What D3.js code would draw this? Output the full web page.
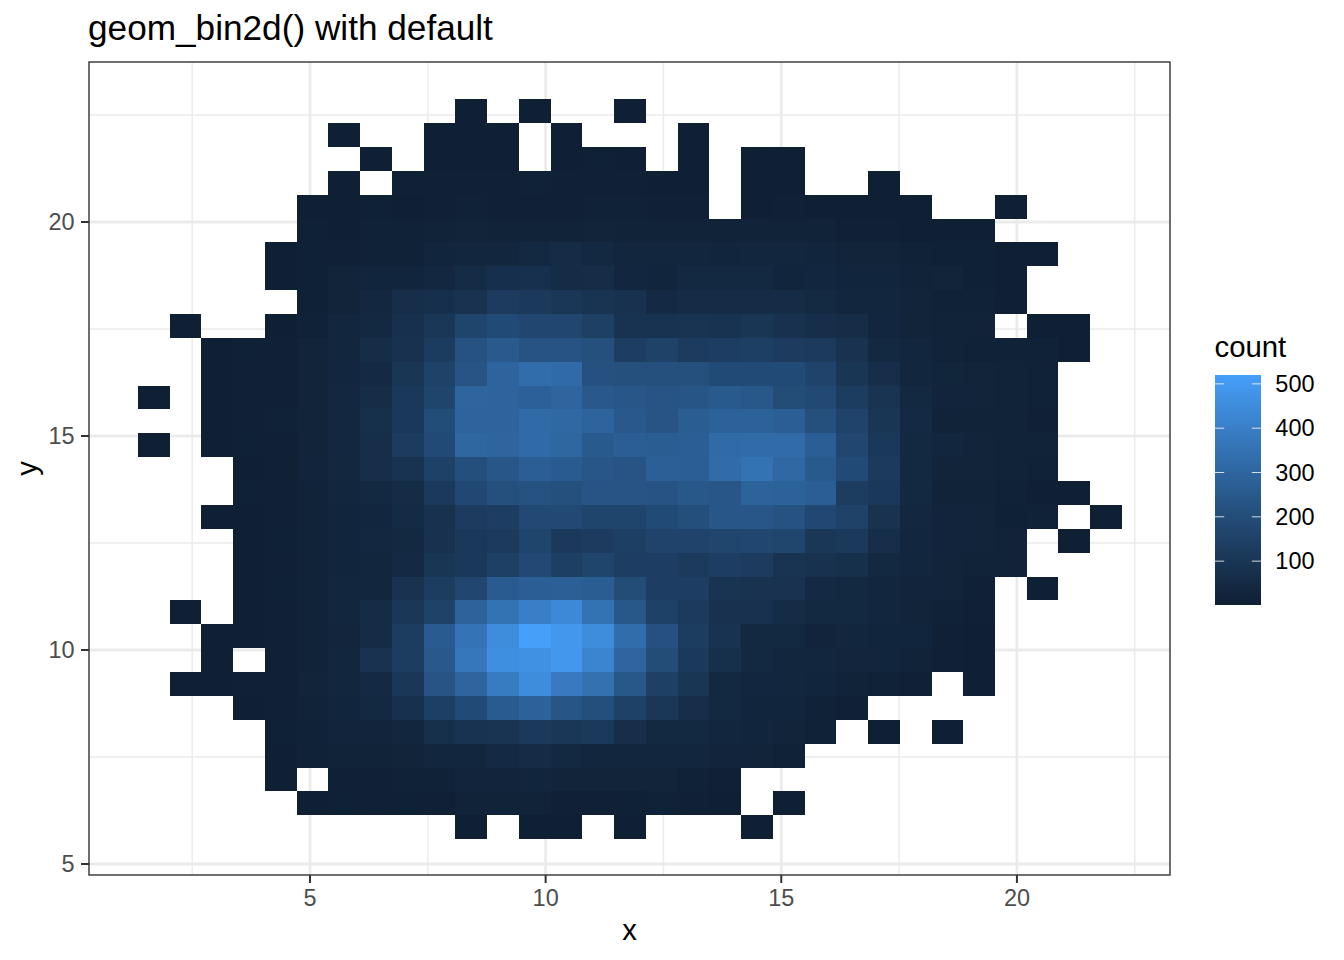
<!DOCTYPE html>
<html>
<head>
<meta charset="utf-8">
<script src="https://cdn.jsdelivr.net/npm/d3@7"></script>
<style>
html,body{margin:0;padding:0;background:#fff;}
svg{display:block;}
text{font-family:"Liberation Sans",Arial,sans-serif;}
</style>
</head>
<body>
<svg id="chart" width="1344" height="960"></svg>
<script>
const titleText = "geom_bin2d() with default";
const xMajor = [5, 10, 15, 20];
const yMajor = [5, 10, 15, 20];
const xMinor = [2.5, 7.5, 12.5, 17.5, 22.5];
const yMinor = [7.5, 12.5, 17.5, 22.5];
const legendTicks = [100, 200, 300, 400, 500];
const xBinStart = 1.35, xBinWidth = 0.6735;
const yBinTop = 22.87, yBinHeight = 0.5577;
const countMin = 1, countMax = 520;
// rows from the top of the plot to the bottom, 31 bins per row, 0 = empty bin
const counts = [
[0,0,0,0,0,0,0,0,0,0,1,0,1,0,0,1,0,0,0,0,0,0,0,0,0,0,0,0,0,0,0],
[0,0,0,0,0,0,1,0,0,2,2,3,0,2,0,0,0,1,0,0,0,0,0,0,0,0,0,0,0,0,0],
[0,0,0,0,0,0,0,1,0,2,2,3,0,2,4,2,0,2,0,2,2,0,0,0,0,0,0,0,0,0,0],
[0,0,0,0,0,0,3,0,4,6,8,8,10,8,6,6,3,3,0,3,3,0,0,2,0,0,0,0,0,0,0],
[0,0,0,0,0,1,1,4,1,8,10,8,8,8,10,10,6,7,0,2,6,2,2,2,2,0,0,1,0,0,0],
[0,0,0,0,0,5,3,10,10,15,18,16,14,16,20,14,15,15,13,13,13,15,7,7,3,2,2,0,0,0,0],
[0,0,0,0,3,5,8,12,12,25,32,30,45,55,45,30,30,30,25,28,30,25,20,20,12,4,4,1,1,0,0],
[0,0,0,0,3,5,20,25,25,38,55,72,75,55,60,35,25,40,45,45,25,35,25,25,16,18,5,3,0,0,0],
[0,0,0,0,0,5,20,38,65,72,85,125,115,105,95,80,50,55,58,58,55,48,32,28,18,12,12,3,0,0,0],
[0,1,0,0,2,10,30,45,75,105,165,190,175,175,145,90,88,95,90,100,80,65,60,35,20,14,16,0,1,1,0],
[0,0,2,5,6,20,30,60,78,128,222,252,225,225,210,135,155,125,135,140,125,120,85,40,30,16,12,10,10,1,0],
[0,0,2,6,6,18,35,50,100,155,230,295,330,320,215,210,210,210,190,190,190,160,100,65,30,24,18,14,10,0,0],
[1,0,3,8,8,18,38,60,110,165,300,295,280,300,250,240,230,235,255,245,195,185,130,95,45,22,20,14,10,0,0],
[0,0,3,8,10,18,38,70,110,200,295,295,320,310,295,250,230,265,285,285,270,210,160,100,50,15,16,14,6,0,0],
[1,0,2,4,8,18,38,68,125,190,305,300,320,305,255,270,265,270,320,325,325,270,175,110,40,30,20,14,14,0,0],
[0,0,0,3,7,22,36,65,90,150,205,240,270,260,240,230,275,272,325,350,310,255,190,120,40,20,18,16,12,0,0],
[0,0,0,4,8,15,28,42,55,115,180,210,220,210,230,230,225,245,240,290,285,270,130,110,40,14,14,12,3,2,0],
[0,0,1,3,8,15,25,35,52,80,125,135,185,185,165,165,190,205,240,240,220,180,155,85,38,22,18,5,10,0,1],
[0,0,0,2,4,14,25,38,45,80,110,120,165,115,125,140,160,160,170,175,170,105,115,65,35,22,18,15,0,1,0],
[0,0,0,3,6,15,25,28,50,100,110,145,185,140,165,135,135,120,135,125,95,80,70,40,28,18,15,14,0,0,0],
[0,0,0,2,5,16,30,32,85,130,175,260,270,275,265,195,135,135,95,85,85,50,45,30,22,18,5,0,1,0,0],
[0,1,0,3,6,14,32,55,105,155,290,350,400,440,350,245,150,120,80,80,55,45,40,30,20,10,6,0,0,0,0],
[0,0,2,3,8,14,26,55,130,260,355,450,520,495,450,330,215,130,90,42,40,22,30,25,25,8,3,0,0,0,0],
[0,0,2,0,6,15,28,85,130,250,370,460,470,490,420,300,195,115,70,40,30,30,27,25,15,6,3,0,0,0,0],
[0,1,2,6,8,18,30,50,105,230,300,385,450,380,345,245,145,100,45,35,30,25,15,10,6,0,1,0,0,0,0],
[0,0,0,3,8,16,25,45,75,140,190,260,285,235,205,150,105,65,42,25,25,10,8,0,0,0,0,0,0,0,0],
[0,0,0,0,5,12,22,22,30,70,90,95,115,105,115,68,45,45,28,25,18,12,0,1,0,1,0,0,0,0,0],
[0,0,0,0,3,10,14,16,20,28,32,50,55,45,33,30,30,28,22,18,10,0,0,0,0,0,0,0,0,0,0],
[0,0,0,0,1,0,4,8,12,12,22,22,25,20,18,18,20,12,8,0,0,0,0,0,0,0,0,0,0,0,0],
[0,0,0,0,0,2,4,8,5,6,16,14,15,8,6,5,10,6,3,0,1,0,0,0,0,0,0,0,0,0,0],
[0,0,0,0,0,0,0,0,0,0,1,0,1,2,0,1,0,0,0,1,0,0,0,0,0,0,0,0,0,0,0]
];

const svg = d3.select("#chart");
const panel = {left: 89, right: 1170, top: 62, bottom: 875};
const x = d3.scaleLinear().domain([0.311, 23.248]).range([panel.left, panel.right]);
const y = d3.scaleLinear().domain([4.743, 23.738]).range([panel.bottom, panel.top]);
const color = d3.scaleLinear().domain([countMin, countMax]).range(["#0F2034", "#469FF9"]).interpolate(d3.interpolateLab);

const gridMajor = 2.8, gridMinor = 1.4;
const grid = svg.append("g");
grid.selectAll(".xm").data(xMinor).join("line").attr("x1", d => x(d)).attr("x2", d => x(d)).attr("y1", panel.top).attr("y2", panel.bottom).attr("stroke", "#EBEBEB").attr("stroke-width", gridMinor);
grid.selectAll(".ym").data(yMinor).join("line").attr("y1", d => y(d)).attr("y2", d => y(d)).attr("x1", panel.left).attr("x2", panel.right).attr("stroke", "#EBEBEB").attr("stroke-width", gridMinor);
grid.selectAll(".xj").data(xMajor).join("line").attr("x1", d => x(d)).attr("x2", d => x(d)).attr("y1", panel.top).attr("y2", panel.bottom).attr("stroke", "#EBEBEB").attr("stroke-width", gridMajor);
grid.selectAll(".yj").data(yMajor).join("line").attr("y1", d => y(d)).attr("y2", d => y(d)).attr("x1", panel.left).attr("x2", panel.right).attr("stroke", "#EBEBEB").attr("stroke-width", gridMajor);

const cells = [];
counts.forEach((row, r) => row.forEach((v, c) => { if (v > 0) cells.push({r, c, v}); }));
svg.append("g").attr("shape-rendering", "crispEdges").selectAll("rect").data(cells).join("rect")
  .attr("x", d => x(xBinStart + d.c * xBinWidth))
  .attr("width", d => x(xBinStart + (d.c + 1) * xBinWidth) - x(xBinStart + d.c * xBinWidth))
  .attr("y", d => y(yBinTop - d.r * yBinHeight))
  .attr("height", d => y(yBinTop - (d.r + 1) * yBinHeight) - y(yBinTop - d.r * yBinHeight))
  .attr("fill", d => color(d.v));

svg.append("rect").attr("x", panel.left).attr("y", panel.top).attr("width", panel.right - panel.left).attr("height", panel.bottom - panel.top)
  .attr("fill", "none").attr("stroke", "#333333").attr("stroke-width", 1.4);

function styleAxis(g) {
  g.select(".domain").remove();
  g.selectAll(".tick line").attr("stroke", "#333333").attr("stroke-width", 2);
  g.selectAll(".tick text").attr("fill", "#4D4D4D").attr("font-size", 23.47).attr("font-family", '"Liberation Sans",Arial,sans-serif');
}
svg.append("g").attr("transform", `translate(-0.5,${panel.bottom})`)
  .call(d3.axisBottom(x).tickValues(xMajor).tickSize(8).tickPadding(6).tickFormat(d3.format("d"))).call(styleAxis);
svg.append("g").attr("transform", `translate(${panel.left},-0.5)`)
  .call(d3.axisLeft(y).tickValues(yMajor).tickSize(8).tickPadding(6.5).tickFormat(d3.format("d"))).call(styleAxis);

svg.append("text").attr("x", 88).attr("y", 40).attr("font-size", 35.2).attr("fill", "#000").text(titleText);
svg.append("text").attr("x", 629.5).attr("y", 940).attr("text-anchor", "middle").attr("font-size", 29.33).attr("fill", "#000").text("x");
svg.append("text").attr("transform", "translate(37,468.5) rotate(-90)").attr("text-anchor", "middle").attr("font-size", 29.33).attr("fill", "#000").text("y");

// legend
const legend = {x: 1215, w: 46, top: 375, bottom: 605};
const lg = d3.scaleLinear().domain([countMin, countMax]).range([legend.bottom, legend.top]);
const defs = svg.append("defs");
const grad = defs.append("linearGradient").attr("id", "cbar").attr("x1", 0).attr("x2", 0).attr("y1", 1).attr("y2", 0);
d3.range(0, 1.0001, 0.05).forEach(t => grad.append("stop").attr("offset", t).attr("stop-color", color(countMin + t * (countMax - countMin))));
svg.append("rect").attr("x", legend.x).attr("y", legend.top).attr("width", legend.w).attr("height", legend.bottom - legend.top).attr("fill", "url(#cbar)");
const lt = svg.append("g").selectAll("g").data(legendTicks).join("g");
lt.append("line").attr("x1", legend.x).attr("x2", legend.x + 9.2).attr("y1", d => lg(d)).attr("y2", d => lg(d)).attr("stroke", "#fff").attr("stroke-width", 1).attr("opacity", 0.8);
lt.append("line").attr("x1", legend.x + legend.w - 9.2).attr("x2", legend.x + legend.w).attr("y1", d => lg(d)).attr("y2", d => lg(d)).attr("stroke", "#fff").attr("stroke-width", 1).attr("opacity", 0.8);
lt.append("text").attr("x", 1314.5).attr("y", d => lg(d) + 8.3).attr("text-anchor", "end").attr("font-size", 23.47).attr("fill", "#000").text(d => d);
svg.append("text").attr("x", 1214.5).attr("y", 357).attr("font-size", 29.33).attr("fill", "#000").text("count");
</script>
</body>
</html>
